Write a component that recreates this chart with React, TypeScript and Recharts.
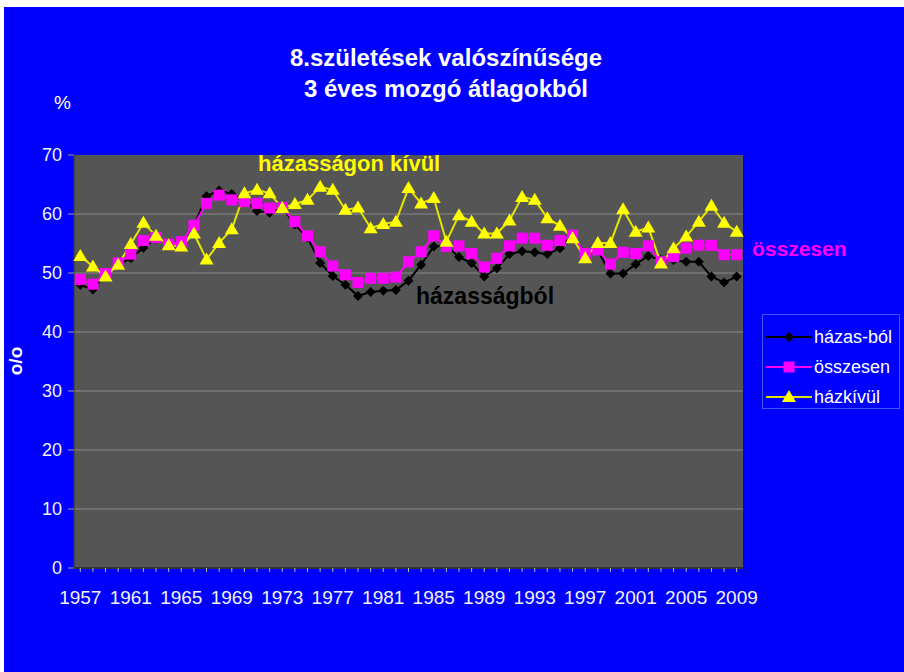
import React from 'react'
import { LineChart, Line, XAxis, YAxis, CartesianGrid } from 'recharts'

const years = [
  1957, 1958, 1959, 1960, 1961, 1962, 1963, 1964, 1965, 1966, 1967, 1968, 1969, 1970,
  1971, 1972, 1973, 1974, 1975, 1976, 1977, 1978, 1979, 1980, 1981, 1982, 1983, 1984,
  1985, 1986, 1987, 1988, 1989, 1990, 1991, 1992, 1993, 1994, 1995, 1996, 1997, 1998,
  1999, 2000, 2001, 2002, 2003, 2004, 2005, 2006, 2007, 2008, 2009,
]

// házas-ból (black)
const hazasbol = [
  48.0, 47.2, 49.8, 51.4, 52.5, 54.3, 55.8, 55.0, 55.3, 58.0, 63.0, 64.0, 63.4, 62.3,
  60.5, 60.2, 61.1, 58.2, 56.0, 51.7, 49.5, 48.0, 46.1, 46.8, 47.0, 47.1, 48.7, 51.4,
  54.5, 54.6, 52.7, 51.7, 49.4, 50.8, 53.2, 53.7, 53.5, 53.2, 54.2, 56.3, 53.4, 53.8,
  49.9, 49.9, 51.5, 52.9, 52.2, 52.2, 51.9, 51.9, 49.4, 48.4, 49.4,
]

// összesen (magenta)
const osszesen = [
  48.9, 48.1, 49.9, 51.7, 53.2, 55.5, 56.0, 54.9, 55.3, 58.1, 61.8, 63.2, 62.4, 62.1,
  61.8, 61.0, 61.1, 58.7, 56.3, 53.6, 51.2, 49.7, 48.4, 49.1, 49.1, 49.3, 51.9, 53.6,
  56.3, 54.5, 54.6, 53.3, 51.0, 52.5, 54.6, 55.9, 55.9, 54.7, 55.5, 56.4, 53.3, 53.9,
  51.5, 53.5, 53.3, 54.6, 51.9, 52.8, 54.2, 54.7, 54.7, 53.1, 53.1,
]

// házkívül (yellow)
const hazkivul = [
  52.9, 51.1, 49.4, 51.4, 54.9, 58.5, 56.3, 54.7, 54.5, 56.7, 52.3, 55.1, 57.4, 63.5,
  64.1, 63.5, 61.0, 61.7, 62.4, 64.6, 64.1, 60.7, 61.1, 57.6, 58.3, 58.7, 64.4, 61.8,
  62.7, 55.3, 59.8, 58.7, 56.7, 56.7, 58.9, 62.9, 62.4, 59.3, 58.0, 55.9, 52.5, 55.1,
  55.1, 60.8, 57.0, 57.7, 51.6, 54.2, 56.2, 58.7, 61.4, 58.5, 57.0,
]

const yTicks = [0, 10, 20, 30, 40, 50, 60, 70]

const data = years.map((y, i) => ({
  year: String(y),
  hazasbol: hazasbol[i],
  osszesen: osszesen[i],
  hazkivul: hazkivul[i],
}))

const FONT = '"Liberation Sans", Arial, sans-serif'

const Diamond = (p: any) => (
  <polygon
    key={`d${p.index}`}
    points={`${p.cx},${p.cy - 5} ${p.cx + 5},${p.cy} ${p.cx},${p.cy + 5} ${p.cx - 5},${p.cy}`}
    fill="#000"
  />
)
const Square = (p: any) => (
  <rect key={`s${p.index}`} x={p.cx - 5.5} y={p.cy - 5.5} width={11} height={11} fill="#ff00ff" />
)
const Triangle = (p: any) => (
  <polygon
    key={`t${p.index}`}
    points={`${p.cx},${p.cy - 7} ${p.cx + 7},${p.cy + 5} ${p.cx - 7},${p.cy + 5}`}
    fill="#ffff00"
  />
)

// label only every 4th year, but keep a tick mark on every year
const YearTick = (p: any) => {
  if (p.index % 4 !== 0) return <g />
  return (
    <text x={p.x} y={p.y} dy="0.71em" textAnchor="middle" fill="#f2f2f2" fontSize={19} fontFamily={FONT}>
      {p.payload.value}
    </text>
  )
}

const legendItems = [
  { label: 'házas-ból', color: '#000', kind: 'diamond' },
  { label: 'összesen', color: '#ff00ff', kind: 'square' },
  { label: 'házkívül', color: '#e0e000', kind: 'triangle' },
]

function LegendIcon({ kind, color }: { kind: string; color: string }) {
  return (
    <svg width={46} height={16} style={{ display: 'block' }}>
      <line x1={0} y1={8} x2={46} y2={8} stroke={color} strokeWidth={2} />
      {kind === 'diamond' && <polygon points="23,3 28,8 23,13 18,8" fill="#000" />}
      {kind === 'square' && <rect x={17.5} y={2.5} width={11} height={11} fill="#ff00ff" />}
      {kind === 'triangle' && <polygon points="23,1 30,13 16,13" fill="#ffff00" />}
    </svg>
  )
}

const abs = (left: number, top: number, extra: React.CSSProperties = {}): React.CSSProperties => ({
  position: 'absolute',
  left,
  top,
  fontFamily: FONT,
  whiteSpace: 'nowrap',
  ...extra,
})

export default function App() {
  return (
    <div style={{ position: 'absolute', left: 0, top: 0, width: 904, height: 672, background: '#fff' }}>
      <div style={{ position: 'absolute', left: 4, top: 7, width: 900, height: 665, background: '#0000ff' }}>
        <LineChart
          width={900}
          height={665}
          data={data}
          margin={{ top: 148, right: 161, bottom: 74, left: 30 }}
        >
          <CartesianGrid fill="#555555" stroke="#8a8a8a" vertical={false} horizontalValues={[10, 20, 30, 40, 50, 60]} />
          <XAxis
            dataKey="year"
            interval={0}
            padding={{ left: 6.3, right: 6.3 }}
            tick={YearTick}
            tickLine={{ stroke: '#bbbbbb' }}
            tickSize={4}
            tickMargin={19}
            axisLine={{ stroke: '#333333', strokeWidth: 2 }}
            height={30}
          />
          <YAxis
            domain={[0, 70]}
            ticks={yTicks}
            width={40}
            tick={{ fill: '#f2f2f2', fontSize: 18, fontFamily: FONT }}
            tickLine={{ stroke: '#999999' }}
            tickSize={6}
            tickMargin={6}
            axisLine={{ stroke: '#333333' }}
          />
          <YAxis
            yAxisId="right"
            orientation="right"
            width={0}
            tick={false}
            tickLine={false}
            axisLine={{ stroke: '#333333', strokeWidth: 2 }}
          />
          <Line
            dataKey="hazasbol"
            stroke="#000000"
            strokeWidth={2}
            dot={Diamond}
            activeDot={false}
            isAnimationActive={false}
          />
          <Line
            dataKey="osszesen"
            stroke="#ff00ff"
            strokeWidth={2}
            dot={Square}
            activeDot={false}
            isAnimationActive={false}
          />
          <Line
            dataKey="hazkivul"
            stroke="#e6e600"
            strokeWidth={2}
            dot={Triangle}
            activeDot={false}
            isAnimationActive={false}
          />
        </LineChart>
      </div>

      <div style={abs(0, 42, { width: 892, textAlign: 'center', color: '#fff', fontWeight: 'bold', fontSize: 24, lineHeight: '31px' })}>
        8.születések valószínűsége
        <br />
        3 éves mozgó átlagokból
      </div>
      <div style={abs(54, 92, { color: '#ffffdd', fontSize: 19 })}>%</div>
      <div
        style={abs(2, 350, {
          color: '#fff',
          fontWeight: 'bold',
          fontSize: 19,
          transform: 'rotate(-90deg)',
          transformOrigin: 'center',
        })}
      >
        o/o
      </div>

      <div style={abs(258, 151, { color: '#ffff00', fontWeight: 'bold', fontSize: 22 })}>házasságon kívül</div>
      <div style={abs(416, 283, { color: '#000', fontWeight: 'bold', fontSize: 23 })}>házasságból</div>
      <div style={abs(752, 237, { color: '#ff00ff', fontWeight: 'bold', fontSize: 21 })}>összesen</div>

      <div
        style={abs(762, 314, {
          width: 138,
          height: 95,
          border: '1px solid #3a5cff',
          boxSizing: 'border-box',
          paddingTop: 7,
        })}
      >
        {legendItems.map((it) => (
          <div key={it.label} style={{ display: 'flex', alignItems: 'center', height: 30, paddingLeft: 3 }}>
            <LegendIcon kind={it.kind} color={it.color} />
            <span style={{ color: '#fff', fontSize: 18, marginLeft: 2 }}>{it.label}</span>
          </div>
        ))}
      </div>
    </div>
  )
}
